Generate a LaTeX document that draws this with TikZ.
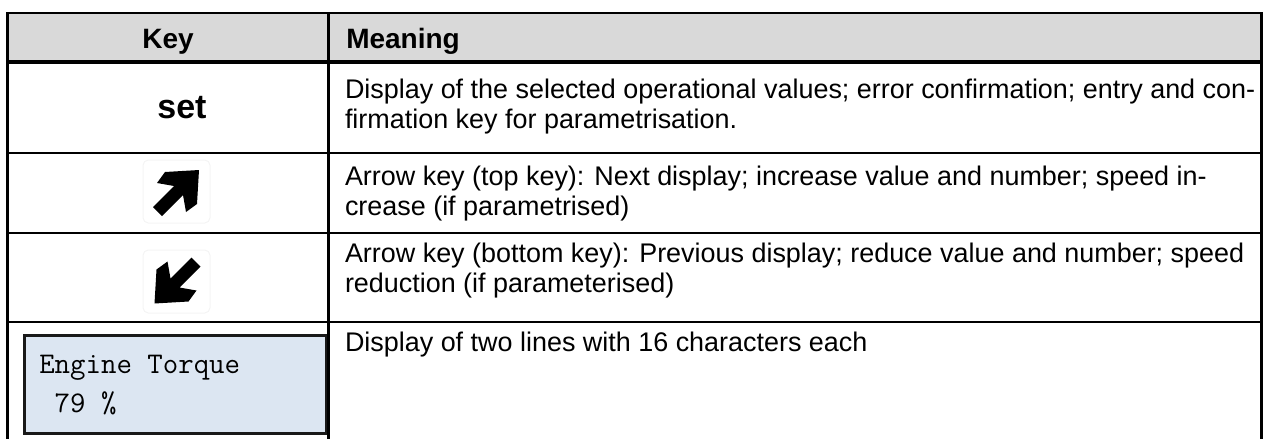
\documentclass[tikz,border=0pt]{standalone}
\usepackage{fontspec}
\setmainfont{Liberation Sans}
\definecolor{headgray}{HTML}{D9D9D9}
\definecolor{lcdblue}{HTML}{DCE6F2}
\definecolor{ghost}{HTML}{F4F4F4}
\tikzset{
  % multi-line cells are anchored at the baseline of their last line
  cell/.style={inner sep=0pt, outer sep=0pt, align=left, anchor=base west,
    font=\fontsize{20.2pt}{22.5pt}\selectfont},
  headtext/.style={inner sep=0pt, anchor=base, font=\fontsize{21pt}{24pt}\selectfont\bfseries},
  keytext/.style={inner sep=0pt, anchor=base, font=\fontsize{25.5pt}{30pt}\selectfont\bfseries},
  lcdtext/.style={inner sep=0pt, anchor=base west, align=left,
    font=\fontsize{22.5pt}{29.25pt}\selectfont\ttfamily},
  keyarrow/.pic={
    \fill[black] (22,-22) -- (-12,-20) -- (-20,-9) -- (-3,-6) -- (-24,15)
      -- (-15,24) -- (6,3) -- (9,20) -- (20,12) -- cycle;
  },
  keycap/.style={draw=ghost, line width=0.75pt, rounded corners=4pt},
  thickrule/.style={line width=2.4pt},
  rowrule/.style={line width=1.6pt},
}
\begin{document}
\begin{tikzpicture}[x=0.75pt, y=-0.75pt]
  \useasboundingbox (0,0) rectangle (1264,439);
  % header band
  \fill[headgray] (7,13) rectangle (1261,62);
  % faint key caps behind the arrow keys
  \draw[keycap] (143,160) rectangle (210,223);
  \draw[keycap] (143,250) rectangle (210,313);
  % LCD display
  \draw[fill=lcdblue, draw=black!90, line width=2.6pt] (24.5,335.5) rectangle (327,433.5);
  % table rules
  \draw[line width=1.5pt] (7,13) -- (1261,13);
  \draw[thickrule] (7,62) -- (1261,62);
  \draw[rowrule] (7,153) -- (1261,153);
  \draw[rowrule] (7,233) -- (1261,233);
  \draw[rowrule] (7,322) -- (1261,322);
  \draw[line width=2pt] (7.5,12) -- (7.5,439);
  \draw[line width=2.6pt] (328.5,12) -- (328.5,439);
  \draw[line width=2.6pt] (1261.5,12) -- (1261.5,439);
  % header
  \node[headtext] (hkey) at (168,48) {Key};
  \node[headtext, anchor=base west] (hmeaning) at (346,48) {Meaning};
  % key column
  \node[keytext] (kset) at (182,118) {set};
  \pic at (177,192) {keyarrow};
  \pic[rotate=180] at (176.5,281.5) {keyarrow};
  \node[lcdtext] (lcd) at (39,412) {Engine Torque\\\hphantom{0}79 \%};
  % meaning column
  \node[cell] (mset) at (345,128) {Display of the selected operational values; error confirmation; entry and con-\\firmation key for parametrisation.};
  \node[cell] (mup) at (345,215) {Arrow key (top key): Next display; increase value and number; speed in-\\crease (if parametrised)};
  \node[cell] (mdown) at (345,292) {Arrow key (bottom key): Previous display; reduce value and number; speed\\reduction (if parameterised)};
  \node[cell] (mlcd) at (345,351) {Display of two lines with 16 characters each};
\end{tikzpicture}
\end{document}
